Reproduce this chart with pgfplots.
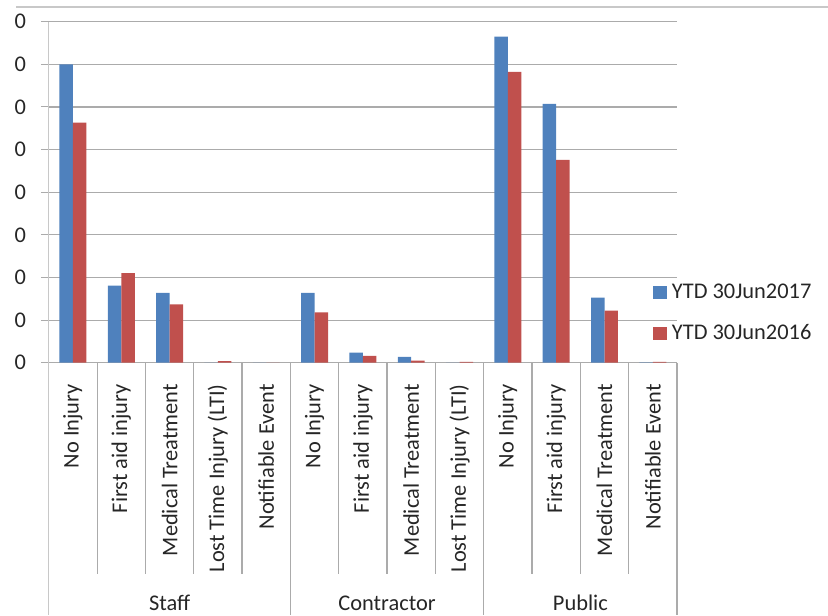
\documentclass[border=0pt]{standalone}
\usepackage{pgfplots}
\pgfplotsset{compat=1.18}
\usepackage{fontspec}
\setmainfont{Carlito}

\definecolor{serA}{HTML}{4F81BD}
\definecolor{serB}{HTML}{C0504D}
\definecolor{gridc}{HTML}{ABABAB}
\definecolor{framec}{HTML}{C8C8C8}
\definecolor{txt}{HTML}{262626}

% Incident counts per category (Staff: 0-4, Contractor: 5-8, Public: 9-12)
\pgfplotstableread{
x  v
0  70.0
1  18.1
2  16.4
3  0.0
4  0.0
5  16.4
6  2.4
7  1.4
8  0.0
9  76.5
10 60.7
11 15.3
12 0.1
}\ytdseventeen
\pgfplotstableread{
x  v
0  56.3
1  21.0
2  13.7
3  0.4
4  0.0
5  11.8
6  1.6
7  0.5
8  0.2
9  68.2
10 47.6
11 12.2
12 0.2
}\ytdsixteen

\begin{document}
\begin{tikzpicture}
\useasboundingbox (0,0) rectangle (621pt,461.25pt);
% chart frame line along the top
\draw[framec, line width=1.6pt] (12pt,456pt) -- (621pt,456pt);
\begin{axis}[
  at={(36.6pt,189.2pt)}, anchor=south west,
  width=471.15pt, height=255.8pt, scale only axis,
  clip=false,
  ybar, ybar=0pt, bar width=10.1pt,
  xmin=-0.5, xmax=12.5,
  ymin=0, ymax=80,
  ytick={0,10,...,80},
  yticklabels={0,0,0,0,0,0,0,0,0},
  xtick={0,...,12},
  xticklabels={No Injury, First aid injury, Medical Treatment, Lost Time Injury (LTI), Notifiable Event,
               No Injury, First aid injury, Medical Treatment, Lost Time Injury (LTI),
               No Injury, First aid injury, Medical Treatment, Notifiable Event},
  xtick style={draw=none},
  ytick style={gridc, line width=0.8pt},
  tick align=outside,
  major tick length=6pt,
  ymajorgrids,
  grid style={gridc, line width=0.9pt},
  axis x line*=bottom, axis y line*=left,
  axis line style={gridc, line width=0.9pt, -},
  x axis line style={gridc},
  y axis line style={framec},
  tick label style={font=\fontsize{16.8}{19}\selectfont, text=txt},
  xticklabel style={rotate=90, anchor=east, inner sep=0pt},
  xticklabel shift=10pt,
  yticklabel style={anchor=east, inner sep=0pt},
  yticklabel shift=11pt,
  legend style={draw=none, fill=none, at={(0.9618,0.146)}, anchor=west,
                font=\fontsize{16.8}{19}\selectfont, text=txt,
                row sep=16pt, inner sep=0pt,
                nodes={inner sep=1pt, anchor=west}},
  legend cell align=left,
  legend image code/.code={\fill[#1] (0pt,-5pt) rectangle (10pt,5pt);},
  /tikz/every odd column/.append style={column sep=3pt},
]
\addplot[fill=serA, draw=none] table[x=x, y=v] {\ytdseventeen};
\addlegendentry{YTD 30Jun2017}
\addplot[fill=serB, draw=none] table[x=x, y=v] {\ytdsixteen};
\addlegendentry{YTD 30Jun2016}

% category dividers under the axis
\draw[framec, line width=0.9pt] (axis cs:-0.5,0) -- ++(0pt,-189.2pt);
\draw[gridc, line width=0.9pt] (axis cs:4.5,0) -- ++(0pt,-189.2pt);
\draw[gridc, line width=0.9pt] (axis cs:8.5,0) -- ++(0pt,-189.2pt);
\draw[gridc, line width=0.9pt] (axis cs:12.5,0) -- ++(0pt,-189.2pt);
\draw[gridc, line width=0.9pt] (axis cs:0.5,0) -- ++(0pt,-158.5pt);
\draw[gridc, line width=0.9pt] (axis cs:1.5,0) -- ++(0pt,-158.5pt);
\draw[gridc, line width=0.9pt] (axis cs:2.5,0) -- ++(0pt,-158.5pt);
\draw[gridc, line width=0.9pt] (axis cs:3.5,0) -- ++(0pt,-158.5pt);
\draw[gridc, line width=0.9pt] (axis cs:5.5,0) -- ++(0pt,-158.5pt);
\draw[gridc, line width=0.9pt] (axis cs:6.5,0) -- ++(0pt,-158.5pt);
\draw[gridc, line width=0.9pt] (axis cs:7.5,0) -- ++(0pt,-158.5pt);
\draw[gridc, line width=0.9pt] (axis cs:9.5,0) -- ++(0pt,-158.5pt);
\draw[gridc, line width=0.9pt] (axis cs:10.5,0) -- ++(0pt,-158.5pt);
\draw[gridc, line width=0.9pt] (axis cs:11.5,0) -- ++(0pt,-158.5pt);

% group names
\node[font=\fontsize{16.8}{19}\selectfont, text=txt] at ([yshift=-180.2pt]axis cs:2,0) {Staff};
\node[font=\fontsize{16.8}{19}\selectfont, text=txt] at ([yshift=-180.2pt]axis cs:6.5,0) {Contractor};
\node[font=\fontsize{16.8}{19}\selectfont, text=txt] at ([yshift=-180.2pt]axis cs:10.5,0) {Public};
\end{axis}
\end{tikzpicture}
\end{document}
